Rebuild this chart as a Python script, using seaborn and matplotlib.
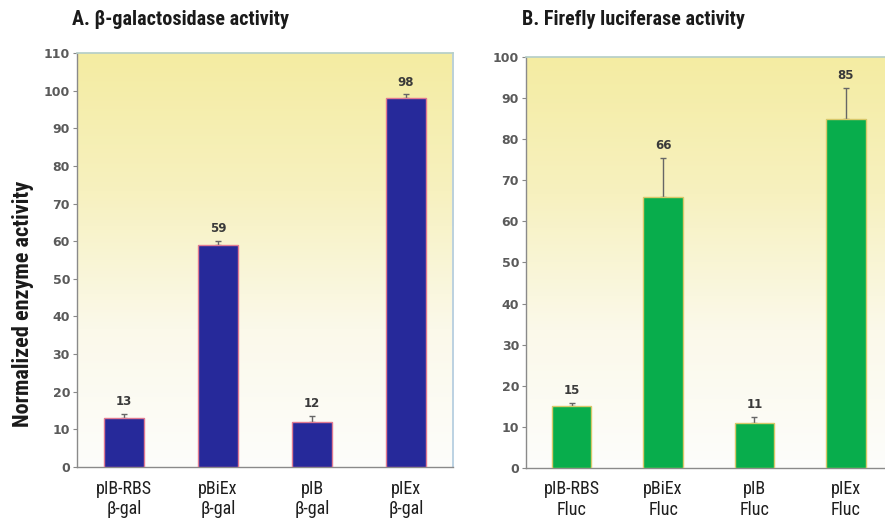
import numpy as np
import pandas as pd
import matplotlib
matplotlib.use("Agg")
import matplotlib.pyplot as plt
from matplotlib.colors import LinearSegmentedColormap
import seaborn as sns

# Normalized activities (bar heights = printed values) and upper error extents
constructs_a = ["pIB-RBS\nβ-gal", "pBiEx\nβ-gal", "pIB\nβ-gal", "pIEx\nβ-gal"]
values_a = [13, 59, 12, 98]
errors_a = [1.2, 1.0, 1.5, 1.0]

constructs_b = ["pIB-RBS\nFluc", "pBiEx\nFluc", "pIB\nFluc", "pIEx\nFluc"]
values_b = [15, 66, 11, 85]
errors_b = [0.8, 9.5, 1.5, 7.5]

yticks_a = list(range(0, 111, 10))
yticks_b = list(range(0, 101, 10))

sns.set_theme(style="white")
narrow = ["Roboto Condensed", "DejaVu Sans"]
plt.rcParams["font.family"] = narrow

fig = plt.figure(figsize=(8.85, 5.2), dpi=100)
ax_a = fig.add_axes([0.087, 0.1019, 0.425, 0.796])
ax_b = fig.add_axes([0.5944, 0.100, 0.413, 0.7904])

fade = LinearSegmentedColormap.from_list(
    "fade", ["#fdfdfb", "#fbf9ea", "#f7f1bf", "#f4eca2"])


def panel(ax, names, vals, errs, ymax, ticks, bar_col, edge_col, right_col):
    df = pd.DataFrame({"construct": names, "activity": vals})
    sns.barplot(data=df, x="construct", y="activity", color=bar_col,
                saturation=1, width=0.43, edgecolor=edge_col, linewidth=1.0,
                errorbar=None, ax=ax, zorder=3)
    ax.set_xlim(-0.5, 3.5)
    ax.set_ylim(0, ymax)
    grad = np.linspace(0, 1, 256).reshape(-1, 1)
    ax.imshow(grad, cmap=fade, origin="lower", aspect="auto",
              extent=[0, 1, 0, 1], transform=ax.transAxes, zorder=0)
    for i, (v, e) in enumerate(zip(vals, errs)):
        ax.errorbar(i, v, yerr=[[0], [e]], fmt="none", ecolor="#666666",
                    elinewidth=1.0, capsize=2.5, capthick=1.0, zorder=2)
        ax.text(i, v + e + ymax * 0.014, f"{v}", ha="center", va="bottom",
                fontsize=8.5, fontweight="bold", color="#3a3a3a",
                family="DejaVu Sans", zorder=4)
    ax.set_yticks(ticks)
    ax.set_yticklabels([str(t) for t in ticks], fontsize=9,
                       fontweight="bold", color="#5a5a5a", family="DejaVu Sans")
    ax.set_xticks(range(len(names)))
    ax.set_xticklabels(names, fontsize=13, color="#1e1e1e", linespacing=1.2,
                       family=narrow, fontweight="normal")
    ax.tick_params(axis="y", which="both", left=True, length=3, width=0.8,
                   color="#888888", pad=2)
    ax.tick_params(axis="x", bottom=False, pad=3)
    ax.set_xlabel("")
    ax.set_ylabel("")
    for side in ("left", "bottom"):
        ax.spines[side].set_color("#8a8a8a")
        ax.spines[side].set_linewidth(1.0)
    ax.spines["top"].set_color("#b6cfc8")
    ax.spines["right"].set_color(right_col)
    ax.grid(False)


panel(ax_a, constructs_a, values_a, errors_a, 110, yticks_a,
      "#26299a", "#e07a92", "#b4cde0")
panel(ax_b, constructs_b, values_b, errors_b, 100, yticks_b,
      "#08ad4c", "#d8c86a", "#b4cde0")

fig.text(0.0814, 0.951, "A. β-galactosidase activity", fontsize=14.5,
         fontweight="bold", color="#1a1a1a", ha="left", va="baseline",
         family=narrow)
fig.text(0.590, 0.951, "B. Firefly luciferase activity", fontsize=14.5,
         fontweight="bold", color="#1a1a1a", ha="left", va="baseline",
         family=narrow)
fig.text(0.026, 0.415, "Normalized enzyme activity", fontsize=16,
         fontweight="bold", color="#1a1a1a", rotation=90, ha="center",
         va="center", family=narrow)

fig.savefig("out.png", dpi=100)
